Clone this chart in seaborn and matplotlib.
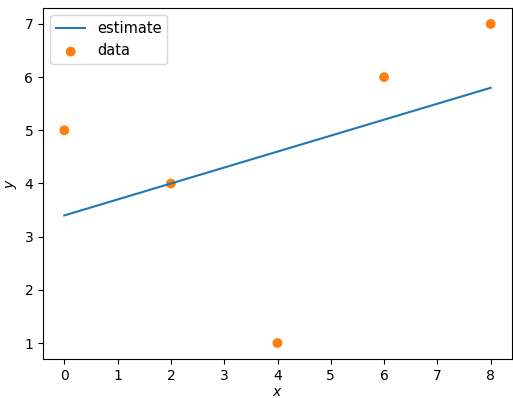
import matplotlib
matplotlib.use("Agg")
import matplotlib.pyplot as plt
import seaborn as sns

x_data = [0, 2, 4, 6, 8]
y_data = [5, 4, 1, 6, 7]
x_est = [0, 2, 4, 6, 8]
y_est = [3.4, 4.0, 4.6, 5.2, 5.8]

fig = plt.figure(figsize=(5.13, 3.98), dpi=100)
ax = fig.add_axes([43/513, 1-359/398, (512-43)/513, (359-8)/398])

sns.lineplot(x=x_est, y=y_est, ax=ax, color="#1f77b4", label="estimate")
sns.scatterplot(x=x_data, y=y_data, ax=ax, color="#ff7f0e", s=50, edgecolor="none", label="data")

ax.set_xlabel("$x$", labelpad=2)
ax.set_ylabel("$y$")
ax.legend(loc="upper left", fontsize=10.5)
fig.savefig("out.png", dpi=100)
